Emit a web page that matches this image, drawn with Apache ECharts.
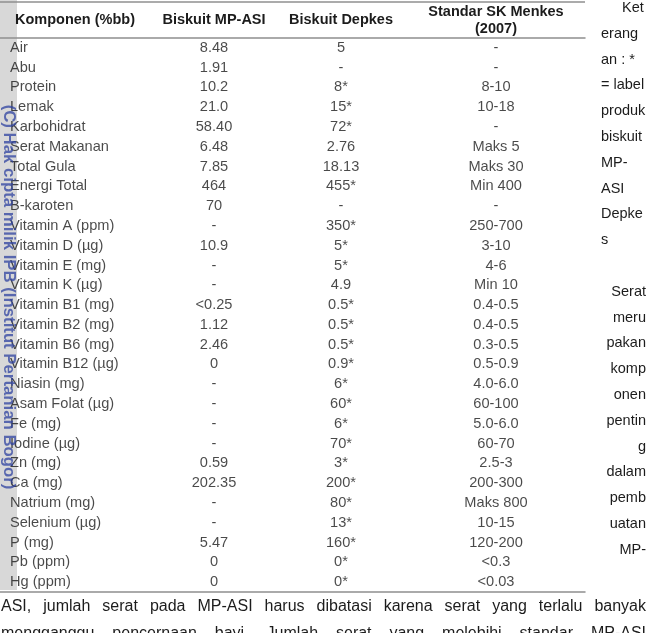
<!DOCTYPE html>
<html>
<head>
<meta charset="utf-8">
<script src="https://cdn.jsdelivr.net/npm/echarts@6/dist/echarts.min.js"></script>
<style>
  html, body { margin: 0; padding: 0; background: #fff; }
  #chart { width: 650px; height: 633px; }
</style>
</head>
<body>
<div id="chart"></div>
<script>
// isi tabel
const komponen = ['Air', 'Abu', 'Protein', 'Lemak', 'Karbohidrat', 'Serat Makanan', 'Total Gula', 'Energi Total',
  'B-karoten', 'Vitamin A (ppm)', 'Vitamin D (µg)', 'Vitamin E (mg)', 'Vitamin K (µg)', 'Vitamin B1 (mg)',
  'Vitamin B2 (mg)', 'Vitamin B6 (mg)', 'Vitamin B12 (µg)', 'Niasin (mg)', 'Asam Folat (µg)', 'Fe (mg)',
  'Iodine (µg)', 'Zn (mg)', 'Ca (mg)', 'Natrium (mg)', 'Selenium (µg)', 'P (mg)', 'Pb (ppm)', 'Hg (ppm)']
const biskuitMpAsi = ['8.48', '1.91', '10.2', '21.0', '58.40', '6.48', '7.85', '464', '70', '-', '10.9', '-', '-',
  '<0.25', '1.12', '2.46', '0', '-', '-', '-', '-', '0.59', '202.35', '-', '-', '5.47', '0', '0']
const biskuitDepkes = ['5', '-', '8*', '15*', '72*', '2.76', '18.13', '455*', '-', '350*', '5*', '5*', '4.9',
  '0.5*', '0.5*', '0.5*', '0.9*', '6*', '60*', '6*', '70*', '3*', '200*', '80*', '13*', '160*', '0*', '0*']
const standarMenkes = ['-', '-', '8-10', '10-18', '-', 'Maks 5', 'Maks 30', 'Min 400', '-', '250-700', '3-10',
  '4-6', 'Min 10', '0.4-0.5', '0.4-0.5', '0.3-0.5', '0.5-0.9', '4.0-6.0', '60-100', '5.0-6.0', '60-70', '2.5-3',
  '200-300', 'Maks 800', '10-15', '120-200', '<0.3', '<0.03']
const headers = ['Komponen (%bb)', 'Biskuit MP-ASI', 'Biskuit Depkes', 'Standar SK Menkes\n(2007)']

// teks di samping tabel
const ketLines = ['Ket', 'erang', 'an : *', '= label', 'produk', 'biskuit', 'MP-', 'ASI', 'Depke', 's']
const seratLines = ['Serat', 'meru', 'pakan', 'komp', 'onen', 'pentin', 'g', 'dalam', 'pemb', 'uatan', 'MP-']
const paraLine1 = 'ASI, jumlah serat pada MP-ASI harus dibatasi karena serat yang terlalu banyak'
const paraLine2 = 'mengganggu pencernaan bayi. Jumlah serat yang melebihi standar MP-ASI'
const watermark = '(C) Hak cipta milik IPB (Institut Pertanian Bogor)'

const FONT = '"Liberation Sans", Arial, sans-serif'
const TEXT = '#1c1c1c'
const LINE = '#8f8f8f'
const tableRight = 585
const colX = [10, 214, 341, 496]   // posisi kolom (px dalam grid)

const chart = echarts.init(document.getElementById('chart'), null, { renderer: 'canvas' })

// buat series per kolom
const columns = [komponen, biskuitMpAsi, biskuitDepkes, standarMenkes]
const series = columns.map((col, c) => ({
  type: 'scatter',
  silent: true,
  symbolSize: 0,
  itemStyle: { color: 'transparent' },
  data: komponen.map((name, i) => [colX[c], name, col[i]]),
  label: {
    show: true,
    position: 'inside',
    align: c === 0 ? 'left' : 'center',
    verticalAlign: 'middle',
    color: TEXT,
    fontFamily: FONT,
    fontSize: 14.6,
    formatter: (p) => p.data[2]
  }
}))

// justify paragraf
const ctx = document.createElement('canvas').getContext('2d')
const justify = (line, y, fontSize) => {
  ctx.font = fontSize + 'px ' + FONT
  const words = line.split(' ')
  const widths = words.map(w => ctx.measureText(w).width)
  const total = widths.reduce((a, b) => a + b, 0)
  const gap = (646 - 1 - total) / (words.length - 1)
  let x = 1
  return words.map((w, i) => {
    const el = {
      type: 'text', x: x, y: y,
      style: { text: w, fill: TEXT, font: fontSize + 'px ' + FONT, textVerticalAlign: 'middle' }
    }
    x += widths[i] + gap
    return el
  })
}

// ukuran watermark supaya panjangnya ~385px
ctx.font = 'bold 16px ' + FONT
const wmSize = 16 * 385 / ctx.measureText(watermark).width

const graphic = []
// strip watermark
graphic.push({ type: 'rect', shape: { x: 0, y: 0, width: 17, height: 590 }, style: { fill: '#d8d8d8' }, z: -10 })
graphic.push({
  type: 'text', x: 9, y: 297, rotation: -Math.PI / 2, z: 10,
  style: {
    text: watermark,
    font: 'bold ' + wmSize.toFixed(2) + 'px ' + FONT, fill: 'rgba(45,65,160,0.75)',
    textAlign: 'center', textVerticalAlign: 'middle'
  }
})
// garis atas tabel
graphic.push({ type: 'line', shape: { x1: 0, y1: 2, x2: tableRight, y2: 2 }, style: { stroke: LINE, lineWidth: 1.5 } })
// header
const headerX = [75, colX[1], colX[2], colX[3]]
headers.forEach((h, i) => {
  graphic.push({
    type: 'text', x: headerX[i], y: 20,
    style: {
      text: h, font: 'bold 14.5px ' + FONT, fill: TEXT, textAlign: 'center', textVerticalAlign: 'middle',
      lineHeight: 17
    }
  })
})
// keterangan
ketLines.forEach((t, k) => {
  graphic.push({
    type: 'text', x: k === 0 ? 622 : 601, y: 8 + 25.8 * k,
    style: { text: t, font: '14.5px ' + FONT, fill: TEXT, textVerticalAlign: 'middle' }
  })
})
seratLines.forEach((t, k) => {
  graphic.push({
    type: 'text', x: 646, y: 8 + 25.8 * (k + 11),
    style: { text: t, font: '14.5px ' + FONT, fill: TEXT, textAlign: 'right', textVerticalAlign: 'middle' }
  })
})
justify(paraLine1, 607, 16).forEach(e => graphic.push(e))
justify(paraLine2, 634, 16).forEach(e => graphic.push(e))

const option = {
  animation: false,
  backgroundColor: '#fff',
  grid: { left: 0, right: 650 - tableRight, top: 38, bottom: 41 },
  xAxis: [
    {
      type: 'value', min: 0, max: tableRight, position: 'bottom',
      axisLine: { show: true, lineStyle: { color: LINE, width: 1.5 } },
      axisTick: { show: false }, axisLabel: { show: false }, splitLine: { show: false }
    },
    {
      type: 'value', min: 0, max: tableRight, position: 'top',
      axisLine: { show: true, lineStyle: { color: LINE, width: 1.5 } },
      axisTick: { show: false }, axisLabel: { show: false }, splitLine: { show: false }
    }
  ],
  yAxis: {
    type: 'category', inverse: true, data: komponen, show: false,
    axisTick: { show: false }
  },
  series: series,
  graphic: graphic
}
chart.setOption(option)
</script>
</body>
</html>
